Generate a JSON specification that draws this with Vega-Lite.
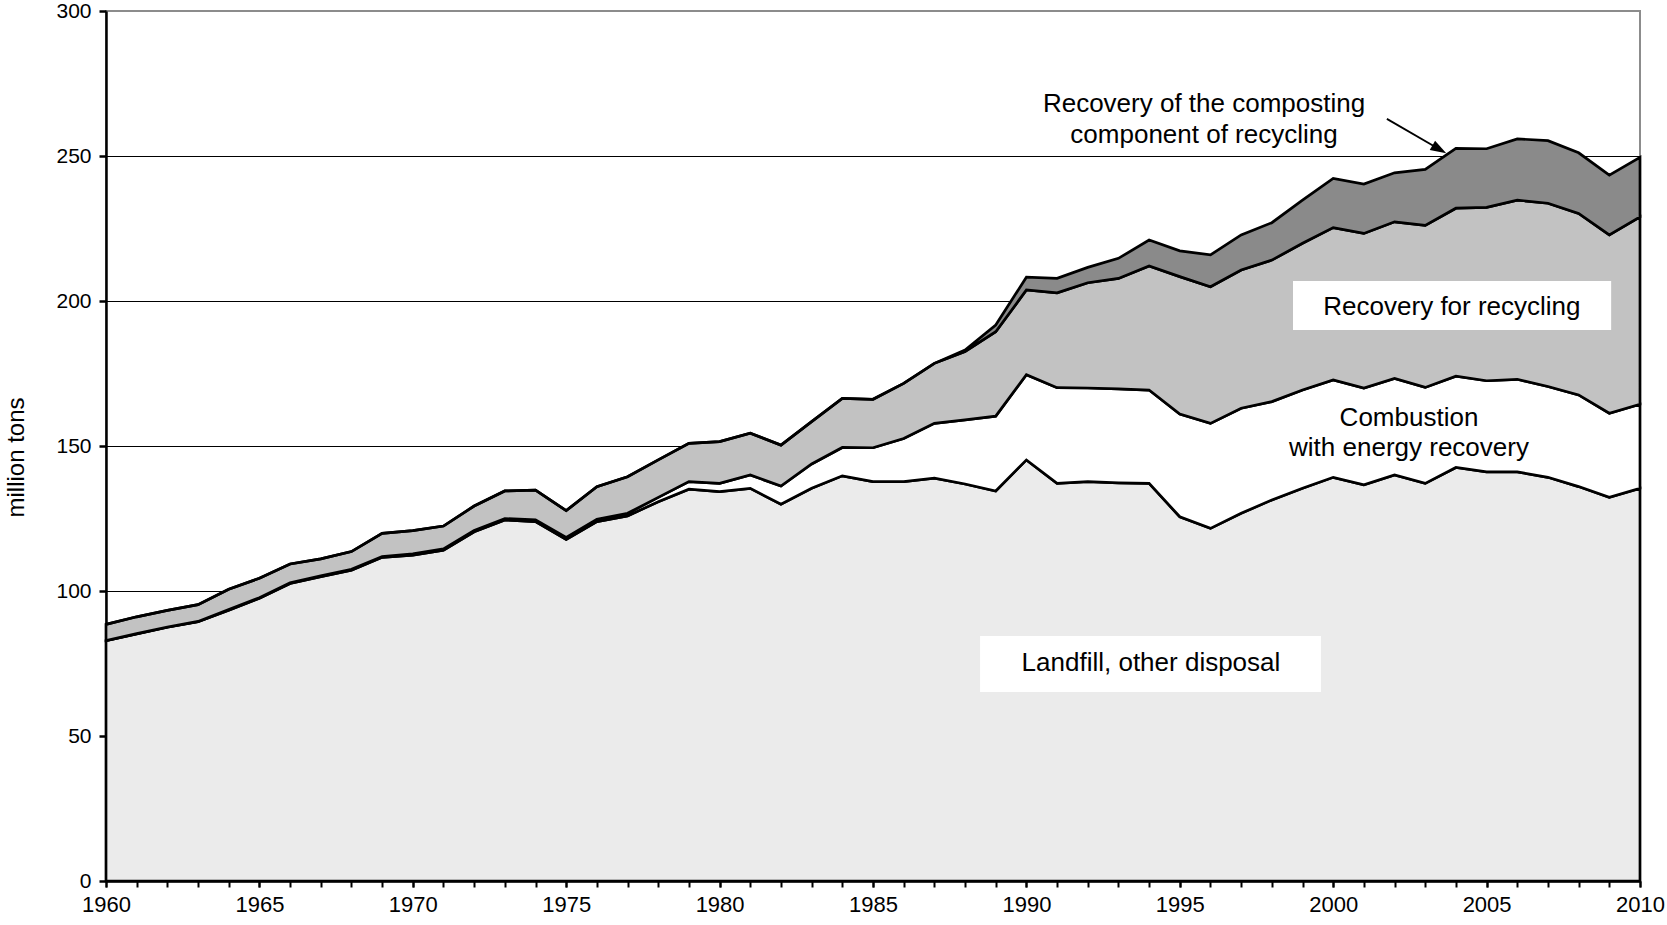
{
  "$schema": "https://vega.github.io/schema/vega-lite/v6.json",
  "width": 1534,
  "height": 870,
  "autosize": {"type": "none"},
  "padding": {"left": 106, "top": 11, "right": 27, "bottom": 44},
  "config": {
    "view": {"stroke": "#8c8c8c", "strokeWidth": 2},
    "font": "Liberation Sans",
    "axis": {"labelColor": "black", "titleColor": "black", "domainColor": "black", "tickColor": "black", "labelFont": "Liberation Sans", "titleFont": "Liberation Sans"}
  },
  "resolve": {"axis": {"x": "independent"}},
  "datasets": {
    "series": [
      {"year":1960,"type":"Landfill","k":1,"tons":82.9},{"year":1960,"type":"Combustion","k":2,"tons":0.0},{"year":1960,"type":"Recycling","k":3,"tons":5.6},{"year":1960,"type":"Composting","k":4,"tons":0},
      {"year":1961,"type":"Landfill","k":1,"tons":85.2},{"year":1961,"type":"Combustion","k":2,"tons":0.1},{"year":1961,"type":"Recycling","k":3,"tons":5.8},{"year":1961,"type":"Composting","k":4,"tons":0},
      {"year":1962,"type":"Landfill","k":1,"tons":87.5},{"year":1962,"type":"Combustion","k":2,"tons":0.1},{"year":1962,"type":"Recycling","k":3,"tons":5.7},{"year":1962,"type":"Composting","k":4,"tons":0},
      {"year":1963,"type":"Landfill","k":1,"tons":89.4},{"year":1963,"type":"Combustion","k":2,"tons":0.1},{"year":1963,"type":"Recycling","k":3,"tons":5.8},{"year":1963,"type":"Composting","k":4,"tons":0},
      {"year":1964,"type":"Landfill","k":1,"tons":93.4},{"year":1964,"type":"Combustion","k":2,"tons":0.2},{"year":1964,"type":"Recycling","k":3,"tons":7.0},{"year":1964,"type":"Composting","k":4,"tons":0},
      {"year":1965,"type":"Landfill","k":1,"tons":97.5},{"year":1965,"type":"Combustion","k":2,"tons":0.2},{"year":1965,"type":"Recycling","k":3,"tons":6.7},{"year":1965,"type":"Composting","k":4,"tons":0},
      {"year":1966,"type":"Landfill","k":1,"tons":102.6},{"year":1966,"type":"Combustion","k":2,"tons":0.2},{"year":1966,"type":"Recycling","k":3,"tons":6.5},{"year":1966,"type":"Composting","k":4,"tons":0},
      {"year":1967,"type":"Landfill","k":1,"tons":104.9},{"year":1967,"type":"Combustion","k":2,"tons":0.3},{"year":1967,"type":"Recycling","k":3,"tons":5.9},{"year":1967,"type":"Composting","k":4,"tons":0},
      {"year":1968,"type":"Landfill","k":1,"tons":107.2},{"year":1968,"type":"Combustion","k":2,"tons":0.3},{"year":1968,"type":"Recycling","k":3,"tons":6.1},{"year":1968,"type":"Composting","k":4,"tons":0},
      {"year":1969,"type":"Landfill","k":1,"tons":111.6},{"year":1969,"type":"Combustion","k":2,"tons":0.3},{"year":1969,"type":"Recycling","k":3,"tons":8.0},{"year":1969,"type":"Composting","k":4,"tons":0},
      {"year":1970,"type":"Landfill","k":1,"tons":112.4},{"year":1970,"type":"Combustion","k":2,"tons":0.4},{"year":1970,"type":"Recycling","k":3,"tons":8.0},{"year":1970,"type":"Composting","k":4,"tons":0},
      {"year":1971,"type":"Landfill","k":1,"tons":114.1},{"year":1971,"type":"Combustion","k":2,"tons":0.4},{"year":1971,"type":"Recycling","k":3,"tons":7.9},{"year":1971,"type":"Composting","k":4,"tons":0},
      {"year":1972,"type":"Landfill","k":1,"tons":120.4},{"year":1972,"type":"Combustion","k":2,"tons":0.5},{"year":1972,"type":"Recycling","k":3,"tons":8.4},{"year":1972,"type":"Composting","k":4,"tons":0},
      {"year":1973,"type":"Landfill","k":1,"tons":124.5},{"year":1973,"type":"Combustion","k":2,"tons":0.5},{"year":1973,"type":"Recycling","k":3,"tons":9.5},{"year":1973,"type":"Composting","k":4,"tons":0},
      {"year":1974,"type":"Landfill","k":1,"tons":123.9},{"year":1974,"type":"Combustion","k":2,"tons":0.6},{"year":1974,"type":"Recycling","k":3,"tons":10.3},{"year":1974,"type":"Composting","k":4,"tons":0},
      {"year":1975,"type":"Landfill","k":1,"tons":117.8},{"year":1975,"type":"Combustion","k":2,"tons":0.7},{"year":1975,"type":"Recycling","k":3,"tons":9.2},{"year":1975,"type":"Composting","k":4,"tons":0},
      {"year":1976,"type":"Landfill","k":1,"tons":123.9},{"year":1976,"type":"Combustion","k":2,"tons":0.8},{"year":1976,"type":"Recycling","k":3,"tons":11.3},{"year":1976,"type":"Composting","k":4,"tons":0},
      {"year":1977,"type":"Landfill","k":1,"tons":125.9},{"year":1977,"type":"Combustion","k":2,"tons":0.9},{"year":1977,"type":"Recycling","k":3,"tons":12.6},{"year":1977,"type":"Composting","k":4,"tons":0},
      {"year":1978,"type":"Landfill","k":1,"tons":130.8},{"year":1978,"type":"Combustion","k":2,"tons":1.5},{"year":1978,"type":"Recycling","k":3,"tons":12.9},{"year":1978,"type":"Composting","k":4,"tons":0},
      {"year":1979,"type":"Landfill","k":1,"tons":135.1},{"year":1979,"type":"Combustion","k":2,"tons":2.6},{"year":1979,"type":"Recycling","k":3,"tons":13.2},{"year":1979,"type":"Composting","k":4,"tons":0},
      {"year":1980,"type":"Landfill","k":1,"tons":134.3},{"year":1980,"type":"Combustion","k":2,"tons":2.8},{"year":1980,"type":"Recycling","k":3,"tons":14.4},{"year":1980,"type":"Composting","k":4,"tons":0},
      {"year":1981,"type":"Landfill","k":1,"tons":135.4},{"year":1981,"type":"Combustion","k":2,"tons":4.6},{"year":1981,"type":"Recycling","k":3,"tons":14.4},{"year":1981,"type":"Composting","k":4,"tons":0},
      {"year":1982,"type":"Landfill","k":1,"tons":129.9},{"year":1982,"type":"Combustion","k":2,"tons":6.3},{"year":1982,"type":"Recycling","k":3,"tons":14.1},{"year":1982,"type":"Composting","k":4,"tons":0},
      {"year":1983,"type":"Landfill","k":1,"tons":135.4},{"year":1983,"type":"Combustion","k":2,"tons":8.4},{"year":1983,"type":"Recycling","k":3,"tons":14.6},{"year":1983,"type":"Composting","k":4,"tons":0},
      {"year":1984,"type":"Landfill","k":1,"tons":139.7},{"year":1984,"type":"Combustion","k":2,"tons":9.8},{"year":1984,"type":"Recycling","k":3,"tons":16.9},{"year":1984,"type":"Composting","k":4,"tons":0},
      {"year":1985,"type":"Landfill","k":1,"tons":137.7},{"year":1985,"type":"Combustion","k":2,"tons":11.7},{"year":1985,"type":"Recycling","k":3,"tons":16.7},{"year":1985,"type":"Composting","k":4,"tons":0},
      {"year":1986,"type":"Landfill","k":1,"tons":137.7},{"year":1986,"type":"Combustion","k":2,"tons":14.9},{"year":1986,"type":"Recycling","k":3,"tons":19.0},{"year":1986,"type":"Composting","k":4,"tons":0},
      {"year":1987,"type":"Landfill","k":1,"tons":138.9},{"year":1987,"type":"Combustion","k":2,"tons":18.9},{"year":1987,"type":"Recycling","k":3,"tons":20.7},{"year":1987,"type":"Composting","k":4,"tons":0},
      {"year":1988,"type":"Landfill","k":1,"tons":136.9},{"year":1988,"type":"Combustion","k":2,"tons":22.1},{"year":1988,"type":"Recycling","k":3,"tons":23.6},{"year":1988,"type":"Composting","k":4,"tons":0.5},
      {"year":1989,"type":"Landfill","k":1,"tons":134.5},{"year":1989,"type":"Combustion","k":2,"tons":25.8},{"year":1989,"type":"Recycling","k":3,"tons":29.1},{"year":1989,"type":"Composting","k":4,"tons":2.3},
      {"year":1990,"type":"Landfill","k":1,"tons":145.2},{"year":1990,"type":"Combustion","k":2,"tons":29.4},{"year":1990,"type":"Recycling","k":3,"tons":29.2},{"year":1990,"type":"Composting","k":4,"tons":4.4},
      {"year":1991,"type":"Landfill","k":1,"tons":137.1},{"year":1991,"type":"Combustion","k":2,"tons":33.0},{"year":1991,"type":"Recycling","k":3,"tons":32.7},{"year":1991,"type":"Composting","k":4,"tons":5.0},
      {"year":1992,"type":"Landfill","k":1,"tons":137.7},{"year":1992,"type":"Combustion","k":2,"tons":32.3},{"year":1992,"type":"Recycling","k":3,"tons":36.3},{"year":1992,"type":"Composting","k":4,"tons":5.3},
      {"year":1993,"type":"Landfill","k":1,"tons":137.3},{"year":1993,"type":"Combustion","k":2,"tons":32.4},{"year":1993,"type":"Recycling","k":3,"tons":38.1},{"year":1993,"type":"Composting","k":4,"tons":6.9},
      {"year":1994,"type":"Landfill","k":1,"tons":137.1},{"year":1994,"type":"Combustion","k":2,"tons":32.2},{"year":1994,"type":"Recycling","k":3,"tons":42.8},{"year":1994,"type":"Composting","k":4,"tons":8.9},
      {"year":1995,"type":"Landfill","k":1,"tons":125.6},{"year":1995,"type":"Combustion","k":2,"tons":35.4},{"year":1995,"type":"Recycling","k":3,"tons":47.4},{"year":1995,"type":"Composting","k":4,"tons":8.9},
      {"year":1996,"type":"Landfill","k":1,"tons":121.6},{"year":1996,"type":"Combustion","k":2,"tons":36.2},{"year":1996,"type":"Recycling","k":3,"tons":47.1},{"year":1996,"type":"Composting","k":4,"tons":11.0},
      {"year":1997,"type":"Landfill","k":1,"tons":126.8},{"year":1997,"type":"Combustion","k":2,"tons":36.2},{"year":1997,"type":"Recycling","k":3,"tons":47.7},{"year":1997,"type":"Composting","k":4,"tons":12.1},
      {"year":1998,"type":"Landfill","k":1,"tons":131.4},{"year":1998,"type":"Combustion","k":2,"tons":33.9},{"year":1998,"type":"Recycling","k":3,"tons":48.8},{"year":1998,"type":"Composting","k":4,"tons":12.9},
      {"year":1999,"type":"Landfill","k":1,"tons":135.4},{"year":1999,"type":"Combustion","k":2,"tons":33.9},{"year":1999,"type":"Recycling","k":3,"tons":50.6},{"year":1999,"type":"Composting","k":4,"tons":14.9},
      {"year":2000,"type":"Landfill","k":1,"tons":139.2},{"year":2000,"type":"Combustion","k":2,"tons":33.6},{"year":2000,"type":"Recycling","k":3,"tons":52.5},{"year":2000,"type":"Composting","k":4,"tons":17.0},
      {"year":2001,"type":"Landfill","k":1,"tons":136.6},{"year":2001,"type":"Combustion","k":2,"tons":33.4},{"year":2001,"type":"Recycling","k":3,"tons":53.3},{"year":2001,"type":"Composting","k":4,"tons":17.0},
      {"year":2002,"type":"Landfill","k":1,"tons":140.0},{"year":2002,"type":"Combustion","k":2,"tons":33.3},{"year":2002,"type":"Recycling","k":3,"tons":54.0},{"year":2002,"type":"Composting","k":4,"tons":16.9},
      {"year":2003,"type":"Landfill","k":1,"tons":137.1},{"year":2003,"type":"Combustion","k":2,"tons":33.1},{"year":2003,"type":"Recycling","k":3,"tons":55.9},{"year":2003,"type":"Composting","k":4,"tons":19.3},
      {"year":2004,"type":"Landfill","k":1,"tons":142.6},{"year":2004,"type":"Combustion","k":2,"tons":31.5},{"year":2004,"type":"Recycling","k":3,"tons":57.9},{"year":2004,"type":"Composting","k":4,"tons":20.6},
      {"year":2005,"type":"Landfill","k":1,"tons":141.1},{"year":2005,"type":"Combustion","k":2,"tons":31.4},{"year":2005,"type":"Recycling","k":3,"tons":59.8},{"year":2005,"type":"Composting","k":4,"tons":20.2},
      {"year":2006,"type":"Landfill","k":1,"tons":141.1},{"year":2006,"type":"Combustion","k":2,"tons":31.9},{"year":2006,"type":"Recycling","k":3,"tons":61.8},{"year":2006,"type":"Composting","k":4,"tons":21.1},
      {"year":2007,"type":"Landfill","k":1,"tons":139.2},{"year":2007,"type":"Combustion","k":2,"tons":31.3},{"year":2007,"type":"Recycling","k":3,"tons":63.2},{"year":2007,"type":"Composting","k":4,"tons":21.6},
      {"year":2008,"type":"Landfill","k":1,"tons":136.0},{"year":2008,"type":"Combustion","k":2,"tons":31.6},{"year":2008,"type":"Recycling","k":3,"tons":62.6},{"year":2008,"type":"Composting","k":4,"tons":20.9},
      {"year":2009,"type":"Landfill","k":1,"tons":132.3},{"year":2009,"type":"Combustion","k":2,"tons":29.0},{"year":2009,"type":"Recycling","k":3,"tons":61.5},{"year":2009,"type":"Composting","k":4,"tons":20.6},
      {"year":2010,"type":"Landfill","k":1,"tons":135.4},{"year":2010,"type":"Combustion","k":2,"tons":29.0},{"year":2010,"type":"Recycling","k":3,"tons":64.6},{"year":2010,"type":"Composting","k":4,"tons":20.5}
    ],
    "boxes": [
      {"x1": 1988.49, "x2": 1999.6, "y1": 65.2, "y2": 84.5},
      {"x1": 1998.69, "x2": 2009.06, "y1": 190.0, "y2": 206.9}
    ],
    "notes": [
      {"label": "Landfill, other disposal", "x": 1994.06, "y": 75.2},
      {"label": "Recovery for recycling", "x": 2003.87, "y": 197.9},
      {"label": "Combustion", "x": 2002.47, "y": 159.7},
      {"label": "with energy recovery", "x": 2002.47, "y": 149.3},
      {"label": "Recovery of the composting", "x": 1995.79, "y": 268.0},
      {"label": "component of recycling", "x": 1995.79, "y": 257.4}
    ],
    "arrow": [
      {"x1": 2001.75, "y1": 262.8, "x2": 2003.46, "y2": 252.3}
    ]
  },
  "layer": [
    {
      "data": {"name": "series"},
      "mark": {"type": "area", "stroke": "black", "strokeWidth": 2.7, "strokeJoin": "miter"},
      "encoding": {
        "x": {
          "field": "year", "type": "quantitative",
          "scale": {"domain": [1960, 2010], "nice": false, "zero": false},
          "axis": {
            "orient": "bottom",
            "title": null,
            "values": [1960,1965,1970,1975,1980,1985,1990,1995,2000,2005,2010],
            "format": "d",
            "labelFlush": false,
            "labelOverlap": false,
            "labelFontSize": 22,
            "labelPadding": 7,
            "tickSize": 6,
            "tickWidth": 2,
            "domainWidth": 2.5,
            "grid": false
          }
        },
        "y": {
          "field": "tons", "type": "quantitative", "stack": "zero",
          "scale": {"domain": [0, 300], "nice": false},
          "axis": {
            "title": "million tons",
            "values": [0, 50, 100, 150, 200, 250, 300],
            "labelFontSize": 21,
            "labelPadding": 8,
            "tickSize": 7,
            "tickWidth": 2.5,
            "domainWidth": 2.5,
            "grid": true,
            "gridColor": {"condition": {"test": "datum.value == 300", "value": "#8c8c8c"}, "value": "black"},
            "gridWidth": 1.2,
            "titleFontSize": 24,
            "titleFontWeight": "normal",
            "titleAngle": 270,
            "titleBaseline": "middle",
            "titleAlign": "center",
            "titleX": -90,
            "titleY": 446
          }
        },
        "color": {
          "field": "type", "type": "nominal",
          "scale": {"domain": ["Landfill", "Combustion", "Recycling", "Composting"], "range": ["#ebebeb", "#ffffff", "#c2c2c2", "#8a8a8a"]},
          "legend": null
        },
        "order": {"field": "k", "type": "quantitative"}
      }
    },
    {
      "data": {"name": "boxes"},
      "mark": {"type": "rect", "fill": "white", "stroke": null},
      "encoding": {
        "x": {
          "field": "x1", "type": "quantitative",
          "axis": {
            "orient": "bottom",
            "title": null,
            "values": [1960,1961,1962,1963,1964,1965,1966,1967,1968,1969,1970,1971,1972,1973,1974,1975,1976,1977,1978,1979,1980,1981,1982,1983,1984,1985,1986,1987,1988,1989,1990,1991,1992,1993,1994,1995,1996,1997,1998,1999,2000,2001,2002,2003,2004,2005,2006,2007,2008,2009,2010],
            "labels": false,
            "domain": false,
            "grid": false,
            "tickSize": 6,
            "tickWidth": 2
          }
        },
        "x2": {"field": "x2"},
        "y": {"field": "y1", "type": "quantitative"},
        "y2": {"field": "y2"}
      }
    },
    {
      "data": {"name": "notes"},
      "mark": {"type": "text", "fontSize": 26, "font": "Liberation Sans", "color": "black", "align": "center", "baseline": "middle"},
      "encoding": {
        "x": {"field": "x", "type": "quantitative", "axis": null},
        "y": {"field": "y", "type": "quantitative"},
        "text": {"field": "label"}
      }
    },
    {
      "data": {"name": "arrow"},
      "mark": {"type": "rule", "color": "black", "strokeWidth": 1.8},
      "encoding": {
        "x": {"field": "x1", "type": "quantitative", "axis": null},
        "y": {"field": "y1", "type": "quantitative"},
        "x2": {"field": "x2"},
        "y2": {"field": "y2"}
      }
    },
    {
      "data": {"name": "arrow"},
      "mark": {"type": "point", "shape": "M-1,-0.67L1,0L-1,0.67Z", "size": 256, "angle": 30, "filled": true, "color": "black", "opacity": 1, "strokeWidth": 0},
      "encoding": {
        "x": {"field": "x2", "type": "quantitative", "axis": null},
        "y": {"field": "y2", "type": "quantitative"}
      }
    }
  ]
}
